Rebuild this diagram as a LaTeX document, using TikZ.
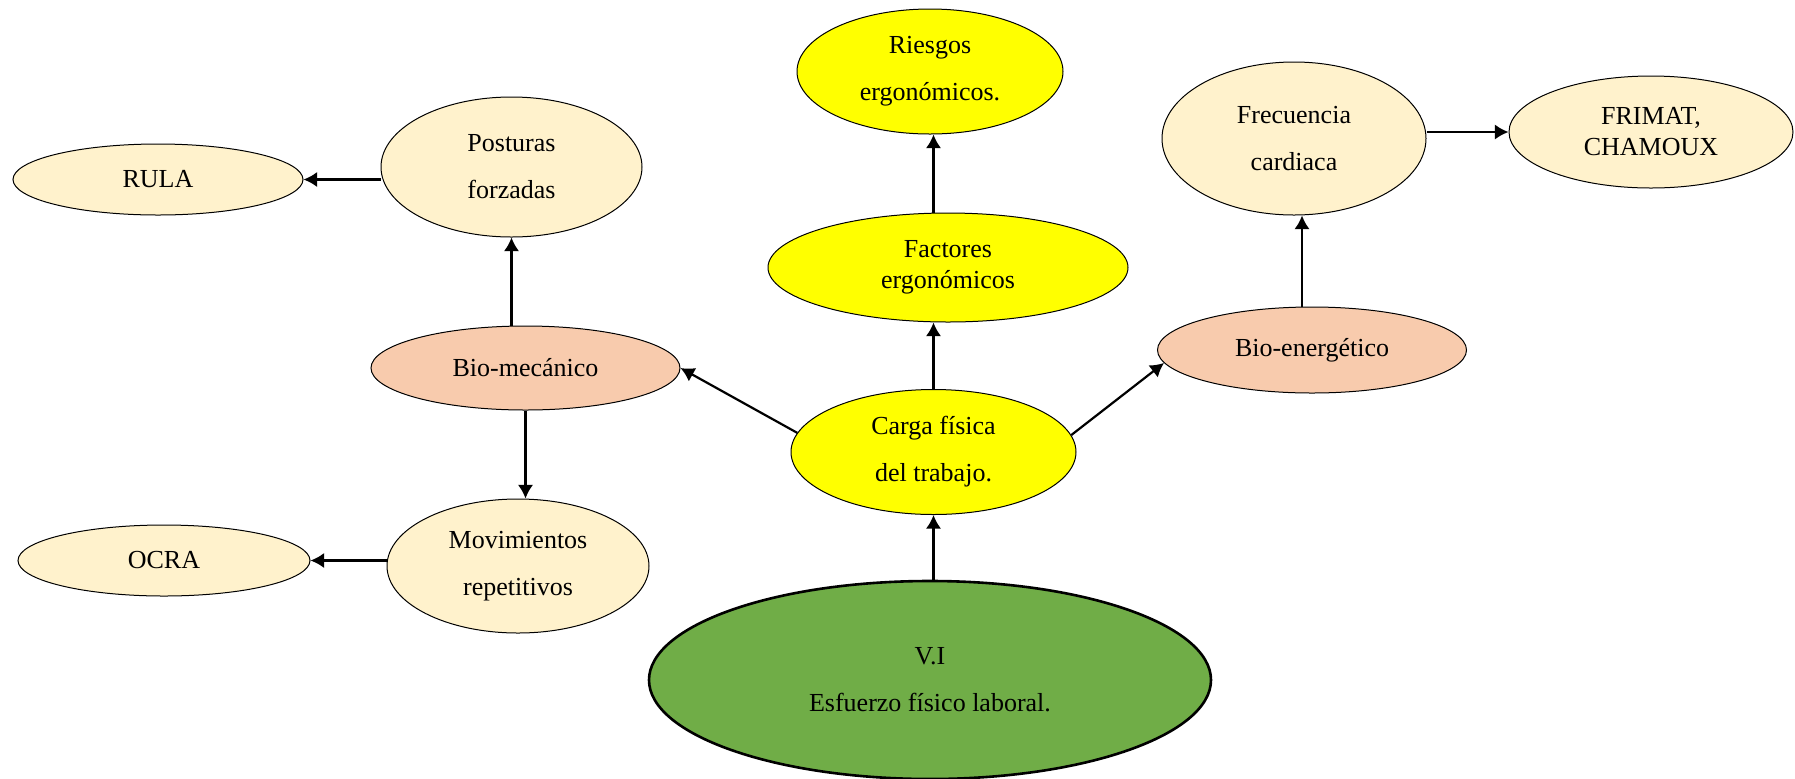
\documentclass[tikz,border=0pt]{standalone}
\usepackage{fontspec}
\setmainfont{Liberation Serif}
\usetikzlibrary{arrows.meta,shapes.geometric,positioning}
\definecolor{MapYellow}{RGB}{255,255,0}
\definecolor{MapCream}{RGB}{255,242,204}
\definecolor{MapPeach}{RGB}{248,203,173}
\definecolor{MapGreen}{RGB}{112,173,71}
\tikzset{
	bub/.style={ellipse, draw=black, line width=0.5pt, inner sep=0pt, align=center,
		font=\fontsize{13}{15.5}\selectfont},
	hot/.style={bub, fill=MapYellow},
	soft/.style={bub, fill=MapCream},
	bio/.style={bub, fill=MapPeach},
	root/.style={bub, fill=MapGreen, line width=1.3pt},
	link/.style={-{Latex[length=2.4mm, width=2.7mm]}, line width=1.1pt}
}
\begin{document}
\begin{tikzpicture}[x=0.5pt, y=-0.5pt]
		\useasboundingbox (0,0) rectangle (1795,778);
		\node[root, minimum width=281pt, minimum height=99pt] (vi) at (930,680) {V.I\\[8pt] Esfuerzo físico laboral.};
		\node[hot, minimum width=142.5pt, minimum height=62.5pt] (carga) at (933.5,452) {Carga física\\[8pt] del trabajo.};
		\node[hot, minimum width=180pt, minimum height=54.5pt] (factores) at (948,267.5) {Factores\\ ergonómicos};
		\node[hot, minimum width=133pt, minimum height=62.5pt] (riesgos) at (930,71.5) {Riesgos\\[8pt] ergonómicos.};
		\node[bio, minimum width=154.5pt, minimum height=42pt] (biomec) at (525.5,368) {Bio-mecánico};
		\node[soft, minimum width=130.5pt, minimum height=70pt] (posturas) at (511.5,167) {Posturas\\[8pt] forzadas};
		\node[soft, minimum width=145pt, minimum height=35.5pt] (rula) at (158,179.5) {RULA};
		\node[soft, minimum width=131pt, minimum height=67pt] (movim) at (518,566) {Movimientos\\[8pt] repetitivos};
		\node[soft, minimum width=146pt, minimum height=35.5pt] (ocra) at (164,560.5) {OCRA};
		\node[bio, minimum width=154.5pt, minimum height=43pt] (bioen) at (1312,350) {Bio-energético};
		\node[soft, minimum width=132pt, minimum height=76.5pt] (frec) at (1294,138.5) {Frecuencia\\[8pt] cardiaca};
		\node[soft, minimum width=142pt, minimum height=56pt] (frimat) at (1651,132) {FRIMAT,\\ CHAMOUX};
		\draw[link] (carga.south |- vi.north) -- (carga.south);
		\draw[link] (carga.north) -- (carga.north |- factores.south);
		\draw[link] (carga |- factores.north) -- (carga |- riesgos.south);
		\draw[link] (carga.172) -- (biomec.east);
		\draw[link] (carga.7) -- (bioen.185);
		\draw[link] (biomec.north -| posturas) -- (posturas.south);
		\draw[link] (biomec.south) -- (biomec.south |- movim.north);
		\draw[link] (posturas.west |- rula) -- (rula.east);
		\draw[link] (movim.west |- ocra) -- (ocra.east);
		\draw[link] ([xshift=-5pt]bioen.north) -- ([xshift=-5pt]bioen.north |- frec.south);
		\draw[link] (frec.east |- frimat) -- (frimat.west);
	\end{tikzpicture}
\end{document}
